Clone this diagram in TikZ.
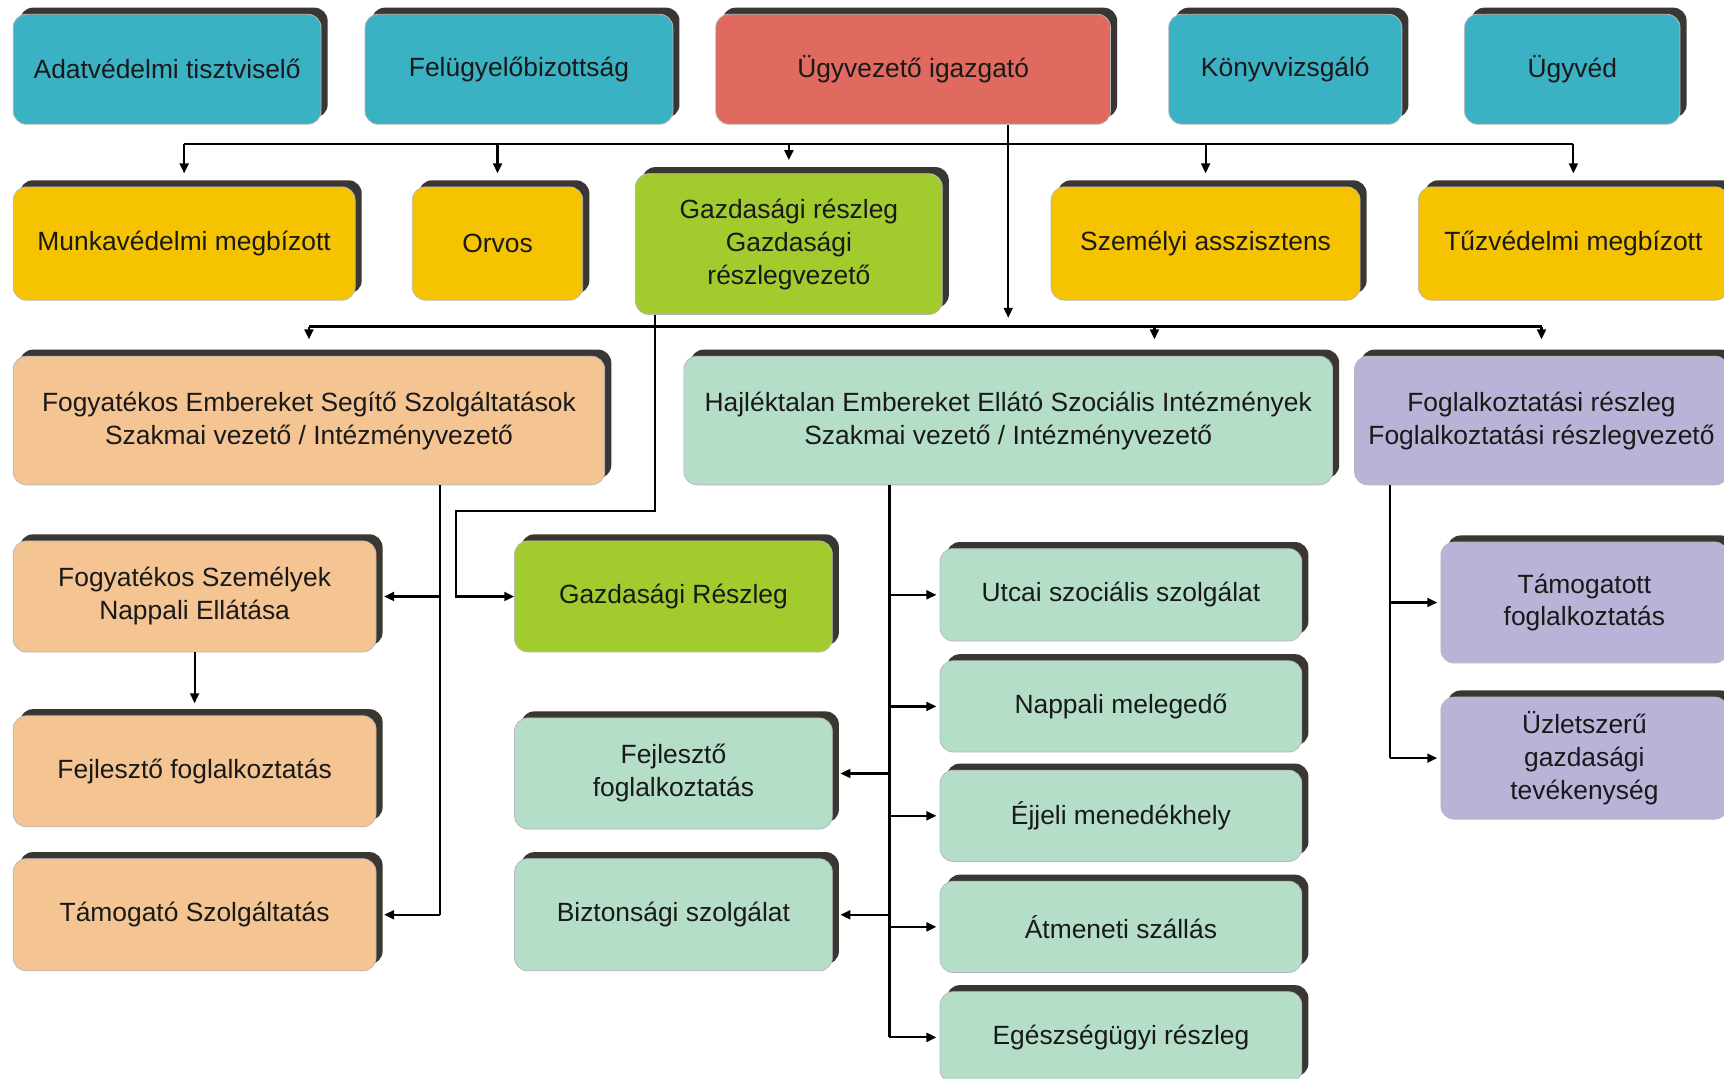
\documentclass[tikz,border=0pt]{standalone}
\usepackage{fontspec}
\setmainfont{Liberation Sans}
\usetikzlibrary{shadows,arrows.meta,calc}
\definecolor{cteal}{RGB}{59,177,196}
\definecolor{cred}{RGB}{224,106,96}
\definecolor{cgold}{RGB}{245,195,0}
\definecolor{cgreen}{RGB}{162,203,46}
\definecolor{cpeach}{RGB}{244,196,146}
\definecolor{cmint}{RGB}{181,222,200}
\definecolor{clav}{RGB}{185,179,216}
\definecolor{shadowc}{RGB}{58,54,50}
\tikzset{
  box/.style={draw=black!28, line width=0.7pt, rounded corners=12pt, align=center,
    text=black!90, font=\fontsize{24}{30}\selectfont, inner sep=0pt,
    general shadow={fill=shadowc, shadow xshift=6pt, shadow yshift=6pt}},
  conn/.style={line width=2pt, draw=black},
  arr/.style={conn, -{Triangle[length=9pt,width=8pt]}},
}
\begin{document}
\begin{tikzpicture}[x=1pt,y=1pt]
\useasboundingbox[fill=white] (0,0) rectangle (1568,-981);
% row 1
\node[box, fill=cteal, minimum width=280pt, minimum height=100pt] (adat) at (152,-63) {Adatvédelmi tisztviselő};
\node[box, fill=cteal, minimum width=280pt, minimum height=100pt] (felug) at (472,-63) {Felügyelőbizottság};
\node[box, fill=cred, minimum width=359pt, minimum height=100pt] (ugyv) at (830.5,-63) {Ügyvezető igazgató};
\node[box, fill=cteal, minimum width=212pt, minimum height=100pt] (konyv) at (1169,-63) {Könyvvizsgáló};
\node[box, fill=cteal, minimum width=196pt, minimum height=100pt] (ugyved) at (1430,-63) {Ügyvéd};
% row 2
\node[box, fill=cgold, minimum width=311pt, minimum height=103pt] (munka) at (167.5,-221.5) {Munkavédelmi megbízott};
\node[box, fill=cgold, minimum width=155pt, minimum height=103pt] (orvos) at (452.5,-221.5) {Orvos};
\node[box, fill=cgreen, minimum width=279pt, minimum height=128pt] (gazd) at (717.5,-222) {Gazdasági részleg\\Gazdasági\\részlegvezető};
\node[box, fill=cgold, minimum width=281pt, minimum height=103pt] (szem) at (1096.5,-221.5) {Személyi asszisztens};
\node[box, fill=cgold, minimum width=282pt, minimum height=103pt] (tuz) at (1431,-221.5) {Tűzvédelmi megbízott};
% row 3
\node[box, fill=cpeach, minimum width=538pt, minimum height=117pt] (fogy) at (281,-382.5) {Fogyatékos Embereket Segítő Szolgáltatások\\Szakmai vezető / Intézményvezető};
\node[box, fill=cmint, minimum width=590pt, minimum height=117pt] (hajl) at (917,-382.5) {Hajléktalan Embereket Ellátó Szociális Intézmények\\Szakmai vezető / Intézményvezető};
\node[box, fill=clav, minimum width=340pt, minimum height=117pt] (fogl) at (1402,-382.5) {Foglalkoztatási részleg\\Foglalkoztatási részlegvezető};
% left column
\node[box, fill=cpeach, minimum width=330pt, minimum height=101pt] (fszn) at (177,-542.5) {Fogyatékos Személyek\\Nappali Ellátása};
\node[box, fill=cpeach, minimum width=330pt, minimum height=101pt] (fejla) at (177,-701.5) {Fejlesztő foglalkoztatás};
\node[box, fill=cpeach, minimum width=330pt, minimum height=102pt] (tamog) at (177,-832) {Támogató Szolgáltatás};
% middle column
\node[box, fill=cgreen, minimum width=289pt, minimum height=101pt] (gazdr) at (612.5,-542.5) {Gazdasági Részleg};
\node[box, fill=cmint, minimum width=289pt, minimum height=101pt] (fejlb) at (612.5,-703.5) {Fejlesztő\\foglalkoztatás};
\node[box, fill=cmint, minimum width=289pt, minimum height=102pt] (bizt) at (612.5,-832) {Biztonsági szolgálat};
% right column
\node[box, fill=cmint, minimum width=329pt, minimum height=84pt] (utcai) at (1019.5,-541) {Utcai szociális szolgálat};
\node[box, fill=cmint, minimum width=329pt, minimum height=83pt] (napp) at (1019.5,-642.5) {Nappali melegedő};
\node[box, fill=cmint, minimum width=329pt, minimum height=83pt] (ejj) at (1019.5,-742) {Éjjeli menedékhely};
\node[box, fill=cmint, minimum width=329pt, minimum height=83pt] (atm) at (1019.5,-843) {Átmeneti szállás};
\node[box, fill=cmint, minimum width=329pt, minimum height=83pt] (eg) at (1019.5,-943.5) {Egészségügyi részleg};
% far right column
\node[box, fill=clav, minimum width=261pt, minimum height=110pt] (tamf) at (1441,-548) {Támogatott\\foglalkoztatás};
\node[box, fill=clav, minimum width=261pt, minimum height=111pt] (uzl) at (1441,-689.5) {Üzletszerű\\gazdasági\\tevékenység};
% helper coordinates
\coordinate (busA) at (0,-131);
\coordinate (busB) at (0,-297);
\coordinate (trunk) at (917,0);
\coordinate (g1) at (596,-465);
\coordinate (g2) at (415,-465);
\coordinate (ft) at (400,0);
\coordinate (ht) at (809,0);
\coordinate (lt) at (1264,0);
% top bus
\draw[conn] (munka.north |- busA) -- (tuz.north |- busA);
\foreach \n in {munka,orvos,gazd,szem,tuz}
  \draw[arr] (\n.north |- busA) -- ($(\n.north)+(0,12)$);
\draw[arr] (ugyv.south -| trunk) -- ($(trunk |- busB)+(0,8)$);
% second bus
\draw[conn] (fogy.north |- busB) -- (fogl.north |- busB);
\draw[arr] (fogy.north |- busB) -- ($(fogy.north)+(0,15)$);
\draw[arr] ($(hajl.north |- busB)+(133,0)$) -- ($(hajl.north)+(133,15)$);
\draw[arr] (fogl.north |- busB) -- ($(fogl.north)+(0,15)$);
% economic link
\draw[arr] (gazd.south -| g1) -- (g1) -- (g2) |- (gazdr.west);
% fogy branch
\draw[conn] (fogy.south -| ft) -- (ft |- tamog.east);
\draw[arr] (ft |- fszn.east) -- ($(fszn.east)+(7,0)$);
\draw[arr] (ft |- tamog.east) -- ($(tamog.east)+(7,0)$);
\draw[arr] (fszn.south) -- ($(fejla.north)+(0,11)$);
% hajl branch
\draw[conn] (hajl.south -| ht) -- (ht |- eg.west);
\foreach \n in {utcai,napp,ejj,atm,eg}
  \draw[arr] (ht |- \n.west) -- ($(\n.west)+(-3,0)$);
\draw[arr] (ht |- fejlb.east) -- ($(fejlb.east)+(7,0)$);
\draw[arr] (ht |- bizt.east) -- ($(bizt.east)+(7,0)$);
% fogl branch
\draw[conn] (fogl.south -| lt) -- (lt |- uzl.west);
\draw[arr] (lt |- tamf.west) -- ($(tamf.west)+(-3,0)$);
\draw[arr] (lt |- uzl.west) -- ($(uzl.west)+(-3,0)$);
\end{tikzpicture}
\end{document}
